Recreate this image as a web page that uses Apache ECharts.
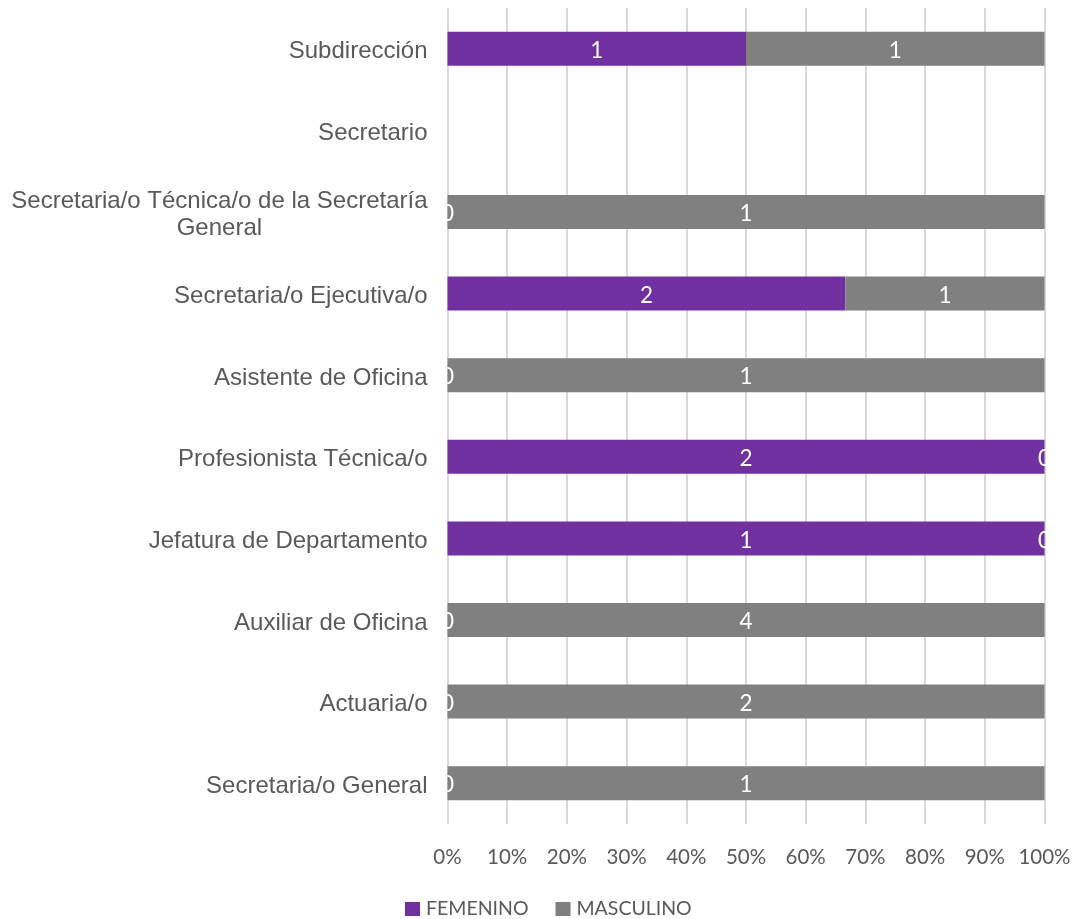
<!DOCTYPE html>
<html>
<head>
<meta charset="utf-8">
<script src="https://cdn.jsdelivr.net/npm/echarts@6/dist/echarts.min.js"></script>
<style>
  html, body { margin: 0; padding: 0; background: #fff; }
  #chart { width: 1074px; height: 919px; }
</style>
</head>
<body>
<div id="chart"></div>
<script>
// categorias (de abajo hacia arriba)
var categories = [
    'Secretaria/o General',
    'Actuaria/o',
    'Auxiliar de Oficina',
    'Jefatura de Departamento',
    'Profesionista Técnica/o',
    'Asistente de Oficina',
    'Secretaria/o Ejecutiva/o',
    'Secretaria/o Técnica/o de la Secretaría\nGeneral',
    'Secretario',
    'Subdirección'
];
var femenino = [0, 0, 0, 1, 2, 0, 2, 0, 0, 1];
var masculino = [1, 2, 4, 0, 0, 1, 1, 1, 0, 1];
var xTicks = [0, 10, 20, 30, 40, 50, 60, 70, 80, 90, 100];

var GRAY_TXT = '#595959';
var labelFont = '"Liberation Sans", Arial, sans-serif';
var numFont = 'Lato, "Open Sans", sans-serif';

// porcentaje de cada serie (100% apilado)
function pct(arr, i) {
    var tot = femenino[i] + masculino[i];
    return tot === 0 ? 0 : arr[i] / tot * 100;
}
function buildData(arr) {
    return arr.map(function (v, i) {
        var item = {value: pct(arr, i)};
        if (femenino[i] + masculino[i] === 0) {
            item.label = {show: false};
        }
        return item;
    });
}

var chart = echarts.init(document.getElementById('chart'));

var option = {
    animation: false,
    grid: {
        left: 447.5,
        right: 29.5,
        top: 8,
        bottom: 95,
        containLabel: false
    },
    legend: {
        left: 405,
        top: 899,
        padding: 0,
        itemWidth: 15,
        itemHeight: 14,
        itemGap: 27,
        icon: 'rect',
        textStyle: {
            color: GRAY_TXT,
            fontSize: 19.5,
            fontFamily: numFont,
            padding: [0, 0, 0, 1]
        },
        data: ['FEMENINO', 'MASCULINO']
    },
    xAxis: {
        type: 'value',
        min: 0,
        max: 100,
        interval: 10,
        axisLine: {show: false},
        axisTick: {show: false},
        splitLine: {
            show: true,
            lineStyle: {color: '#d9d9d9', width: 2}
        },
        axisLabel: {
            margin: 23,
            color: GRAY_TXT,
            fontSize: 20.5,
            fontFamily: numFont,
            formatter: function (v) {
                return xTicks.indexOf(v) >= 0 ? v + '%' : '';
            }
        }
    },
    yAxis: {
        type: 'category',
        data: categories,
        axisLine: {show: false},
        axisTick: {show: false},
        axisLabel: {
            margin: 20,
            padding: [6, 0, 0, 0],
            color: GRAY_TXT,
            fontSize: 24,
            fontFamily: labelFont,
            formatter: function (v) {
                if (v.indexOf('\n') >= 0) {
                    var p = v.split('\n');
                    return '{a|' + p[0] + '}\n{c|' + p[1] + '}';
                }
                return v;
            },
            rich: {
                a: {fontSize: 24, color: GRAY_TXT, fontFamily: labelFont, lineHeight: 27},
                c: {fontSize: 24, color: GRAY_TXT, fontFamily: labelFont, lineHeight: 27, align: 'center'}
            }
        }
    },
    series: [
        {
            name: 'FEMENINO',
            type: 'bar',
            stack: 'total',
            barWidth: 34,
            itemStyle: {color: '#7030a0'},
            label: {
                show: true,
                position: 'inside',
                offset: [0, 2],
                color: '#fff',
                fontSize: 22.5,
                fontFamily: numFont,
                formatter: function (p) { return femenino[p.dataIndex]; }
            },
            data: buildData(femenino)
        },
        {
            name: 'MASCULINO',
            type: 'bar',
            stack: 'total',
            barWidth: 34,
            itemStyle: {color: '#808080'},
            label: {
                show: true,
                position: 'inside',
                offset: [0, 2],
                color: '#fff',
                fontSize: 22.5,
                fontFamily: numFont,
                formatter: function (p) { return masculino[p.dataIndex]; }
            },
            data: buildData(masculino)
        }
    ]
};

chart.setOption(option);
</script>
</body>
</html>
